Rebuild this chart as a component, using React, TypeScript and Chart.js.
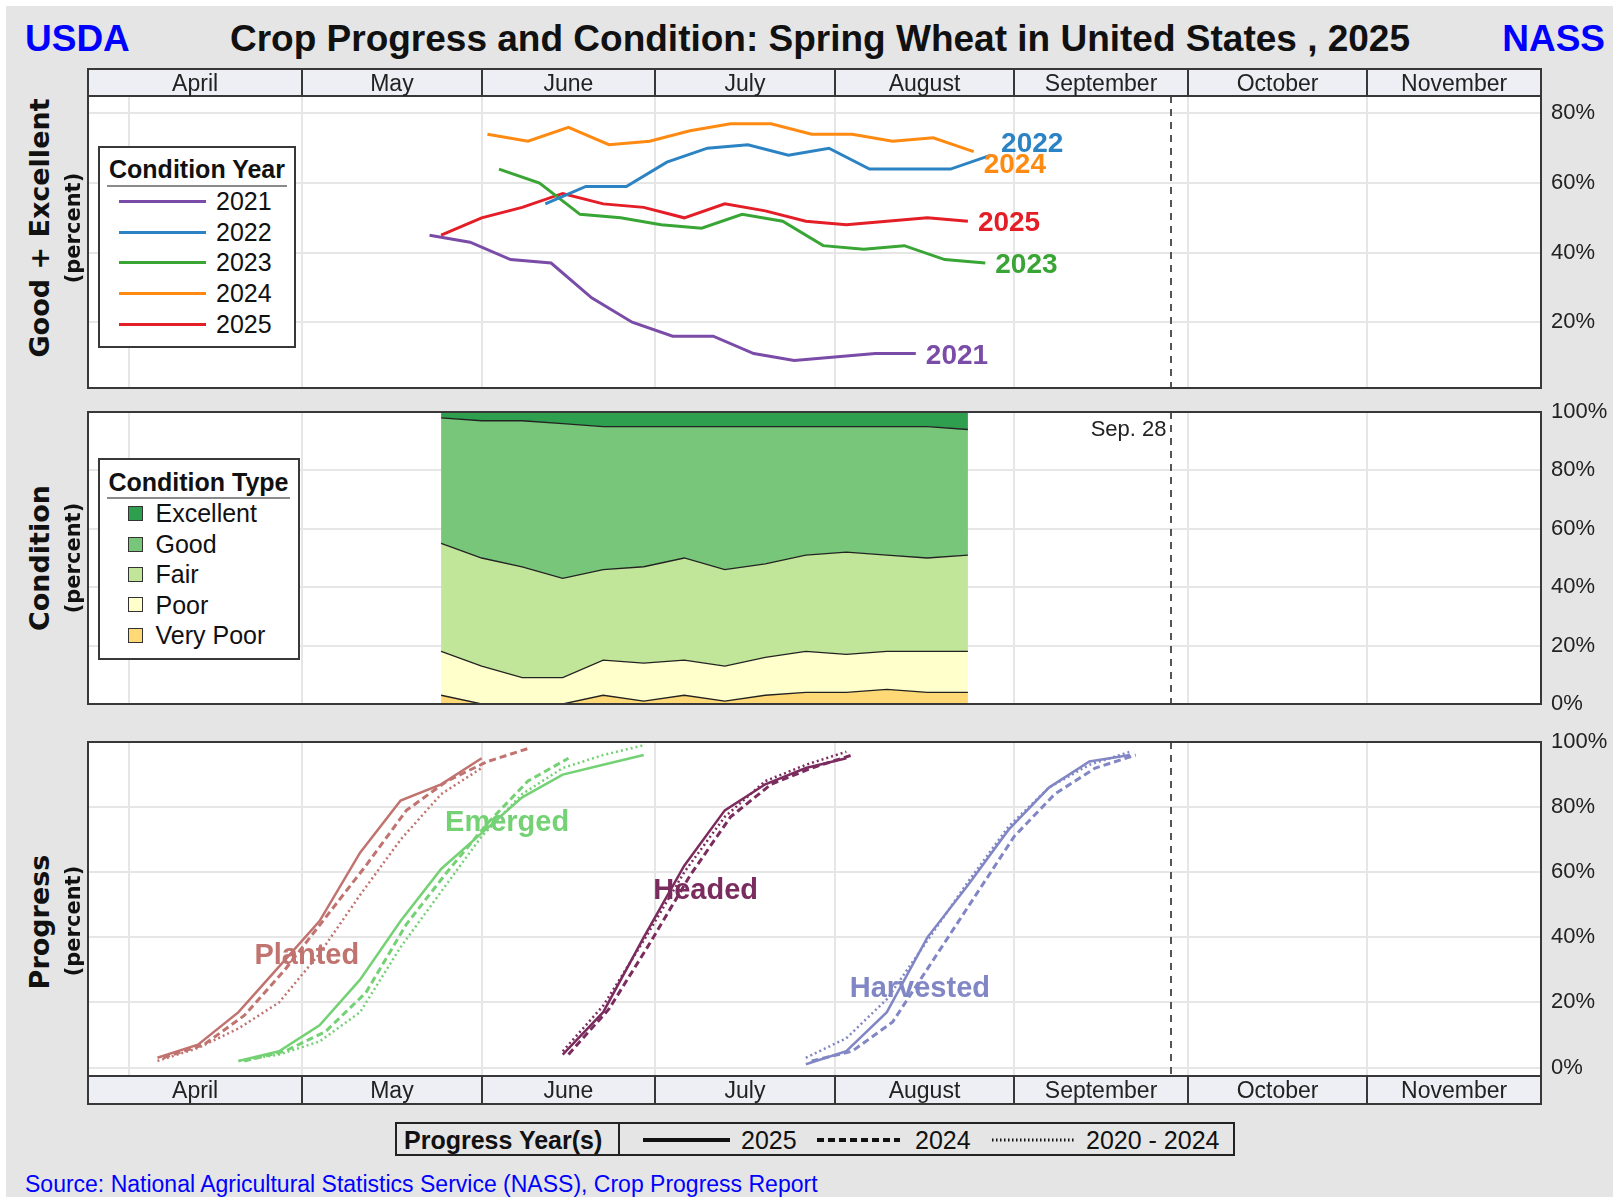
import React, { useEffect, useRef } from 'react';
import { Chart, registerables } from 'chart.js';

Chart.register(...registerables);

const SANS = '"Liberation Sans", Arial, Helvetica, sans-serif';
const WIDE = '"DejaVu Sans", Verdana, sans-serif';
const GRID = '#e6e6e6';
const FRAME = '#383838';

// ---------- calendar (month-day, plotted on the 2025 calendar) ----------
const MONTH_NAMES = ['April', 'May', 'June', 'July', 'August', 'September', 'October', 'November'];
const MONTH_EDGES = ['03-25', '05-01', '06-01', '07-01', '08-01', '09-01', '10-01', '11-01', '12-01'];
const MONTH_GRID = ['04-01', '05-01', '06-01', '07-01', '08-01', '09-01', '10-01', '11-01'];
const CUTOFF_DATE = '09-28';
const CUTOFF_LABEL = 'Sep. 28';

// ---------- Good + Excellent by year ----------
const GE_YEARS = ['2021', '2022', '2023', '2024', '2025'];
const GE_COLORS = ['#7a4ca8', '#2c83c3', '#38a535', '#ff8a12', '#e41e26'];
const GE_START = ['05-23', '06-12', '06-04', '06-02', '05-25'];
const GE_2021 = [45, 43, 38, 37, 27, 20, 16, 16, 11, 9, 10, 11, 11];
const GE_2022 = [54, 59, 59, 66, 70, 71, 68, 70, 64, 64, 64, 68];
const GE_2023 = [64, 60, 51, 50, 48, 47, 51, 49, 42, 41, 42, 38, 37];
const GE_2024 = [74, 72, 76, 71, 72, 75, 77, 77, 74, 74, 72, 73, 69];
const GE_2025 = [45, 50, 53, 57, 54, 53, 50, 54, 52, 49, 48, 49, 50, 49];
const GE_VALUES = [GE_2021, GE_2022, GE_2023, GE_2024, GE_2025];
const GE_TICKS = [20, 40, 60, 80];
const GE_LABEL_NUDGE = [0, -13, 0, 11, 0];

// ---------- Condition 2025 ----------
const COND_TYPES = ['Excellent', 'Good', 'Fair', 'Poor', 'Very Poor'];
const COND_COLORS = ['#2e9f4f', '#78c679', '#c2e699', '#ffffcc', '#fed976'];
const COND_START = '05-25';
const COND_EXCELLENT = [2, 3, 3, 4, 5, 5, 5, 5, 5, 5, 5, 5, 5, 6];
const COND_GOOD = [43, 47, 50, 53, 49, 48, 45, 49, 47, 44, 43, 44, 45, 43];
const COND_FAIR = [37, 37, 38, 34, 31, 33, 35, 33, 32, 33, 35, 33, 32, 33];
const COND_POOR = [15, 13, 9, 9, 12, 13, 12, 12, 13, 14, 13, 13, 14, 14];
const COND_VERY_POOR = [3, 0, 0, 0, 3, 1, 3, 1, 3, 4, 4, 5, 4, 4];
const PCT_TICKS = [0, 20, 40, 60, 80, 100];

// ---------- Progress ----------
const STAGES = ['Planted', 'Emerged', 'Headed', 'Harvested'];
const STAGE_COLORS = ['#c0736f', '#74d174', '#7b2c5e', '#8186c4'];
const PROGRESS_YEARS = ['2025', '2024', '2020 - 2024'];
const PLANTED_START = ['04-06', '04-07', '04-06'];
const PLANTED_2025 = [3, 7, 17, 31, 45, 66, 82, 87, 95];
const PLANTED_2024 = [3, 7, 16, 30, 46, 62, 79, 88, 94, 98];
const PLANTED_AVG = [2, 6, 12, 20, 35, 53, 70, 84, 92];
const EMERGED_START = ['04-20', '04-21', '04-20'];
const EMERGED_2025 = [2, 5, 13, 27, 45, 61, 72, 83, 90, 93, 96];
const EMERGED_2024 = [2, 5, 11, 23, 44, 60, 75, 88, 95];
const EMERGED_AVG = [2, 4, 8, 17, 37, 54, 71, 84, 92, 96, 99];
const HEADED_START = ['06-15', '06-16', '06-15'];
const HEADED_2025 = [4, 17, 40, 62, 79, 87, 92, 95];
const HEADED_2024 = [4, 18, 38, 59, 77, 87, 92, 96];
const HEADED_AVG = [5, 19, 39, 60, 77, 88, 93, 97];
const HARVESTED_START = ['07-27', '07-28', '07-27'];
const HARVESTED_2025 = [1, 5, 17, 40, 56, 73, 86, 94, 96];
const HARVESTED_2024 = [2, 5, 14, 33, 52, 71, 84, 92, 96];
const HARVESTED_AVG = [3, 9, 21, 39, 57, 74, 86, 93, 97];
// label anchors: [day of year, percent]
const STAGE_LABEL_AT = [[121.8, 35], [156.4, 76], [190.7, 55], [227.7, 25]];

const STAGE_STARTS = [PLANTED_START, EMERGED_START, HEADED_START, HARVESTED_START];
const STAGE_VALUES = [
  [PLANTED_2025, PLANTED_2024, PLANTED_AVG],
  [EMERGED_2025, EMERGED_2024, EMERGED_AVG],
  [HEADED_2025, HEADED_2024, HEADED_AVG],
  [HARVESTED_2025, HARVESTED_2024, HARVESTED_AVG],
];

function doy(md: string) {
  const [m, d] = md.split('-').map(Number);
  return (Date.UTC(2025, m - 1, d) - Date.UTC(2025, 0, 1)) / 86400000 + 1;
}
function weekly(start: string, vals: number[]) {
  const s = doy(start);
  return vals.map((y, i) => ({ x: s + 7 * i, y }));
}
const X_MIN = doy(MONTH_EDGES[0]);
const X_MAX = doy(MONTH_EDGES[MONTH_EDGES.length - 1]);

function xScale() {
  return {
    type: 'linear',
    min: X_MIN,
    max: X_MAX,
    afterBuildTicks: (s: any) => {
      s.ticks = MONTH_GRID.map((m) => ({ value: doy(m) }));
    },
    ticks: { display: false },
    grid: { color: GRID, lineWidth: 2, drawTicks: false },
    border: { display: false },
    afterFit: (s: any) => {
      s.height = 0;
    },
  };
}
function yScale(min: number, max: number, ticks: number[], stacked = false) {
  return {
    position: 'right',
    min,
    max,
    stacked,
    afterBuildTicks: (s: any) => {
      s.ticks = ticks.map((v) => ({ value: v }));
    },
    ticks: {
      callback: (v: any) => `${v}%`,
      font: { family: SANS, size: 22 },
      color: '#222',
      padding: 10,
      autoSkip: false,
    },
    grid: { color: GRID, lineWidth: 2, drawTicks: false },
    border: { display: false },
    afterFit: (s: any) => {
      s.width = 72;
      s.paddingTop = 0;
      s.paddingBottom = 0;
    },
  };
}

function drawStrip(ctx: CanvasRenderingContext2D, xs: any, top: number, h: number) {
  const left = xs.getPixelForValue(X_MIN);
  const right = xs.getPixelForValue(X_MAX);
  ctx.save();
  ctx.fillStyle = '#eeeef5';
  ctx.fillRect(left, top, right - left, h);
  ctx.strokeStyle = FRAME;
  ctx.lineWidth = 2;
  ctx.strokeRect(left, top, right - left, h);
  ctx.beginPath();
  MONTH_EDGES.slice(1, -1).forEach((m) => {
    const px = Math.round(xs.getPixelForValue(doy(m)));
    ctx.moveTo(px, top);
    ctx.lineTo(px, top + h);
  });
  ctx.stroke();
  ctx.fillStyle = '#222';
  ctx.font = `23px ${SANS}`;
  ctx.textAlign = 'center';
  ctx.textBaseline = 'alphabetic';
  MONTH_NAMES.forEach((name, i) => {
    const c = (xs.getPixelForValue(doy(MONTH_EDGES[i])) + xs.getPixelForValue(doy(MONTH_EDGES[i + 1]))) / 2;
    ctx.fillText(name, c, top + h / 2 + 8);
  });
  ctx.restore();
}

function makePanel(cfg: { strip?: 'top' | 'bottom'; cutoffText?: boolean; endLabels?: boolean; stageLabels?: boolean }) {
  return {
    id: 'panel',
    beforeDraw(chart: any) {
      const { ctx, chartArea: a } = chart;
      ctx.save();
      ctx.fillStyle = '#ffffff';
      ctx.fillRect(a.left, a.top, a.right - a.left, a.bottom - a.top);
      ctx.restore();
    },
    beforeDatasetsDraw(chart: any) {
      const { ctx, chartArea: a, scales } = chart;
      const cx = Math.round(scales.x.getPixelForValue(doy(CUTOFF_DATE)));
      ctx.save();
      ctx.strokeStyle = '#555';
      ctx.lineWidth = 2;
      ctx.setLineDash([7, 6]);
      ctx.beginPath();
      ctx.moveTo(cx, a.top);
      ctx.lineTo(cx, a.bottom);
      ctx.stroke();
      ctx.restore();
      if (cfg.stageLabels) {
        ctx.save();
        ctx.font = `bold 29px ${SANS}`;
        ctx.textAlign = 'center';
        ctx.textBaseline = 'alphabetic';
        STAGES.forEach((name, i) => {
          const [d, p] = STAGE_LABEL_AT[i];
          ctx.fillStyle = STAGE_COLORS[i];
          ctx.fillText(name, scales.x.getPixelForValue(d), scales.y.getPixelForValue(p) + 10.4);
        });
        ctx.restore();
      }
    },
    afterDatasetsDraw(chart: any) {
      if (!cfg.endLabels) return;
      const { ctx } = chart;
      ctx.save();
      ctx.font = `bold 28px ${SANS}`;
      ctx.textAlign = 'left';
      ctx.textBaseline = 'alphabetic';
      GE_YEARS.forEach((yr, i) => {
        const pts = chart.getDatasetMeta(i).data;
        const last = pts[pts.length - 1];
        ctx.fillStyle = GE_COLORS[i];
        ctx.fillText(yr, last.x + 10, last.y + GE_LABEL_NUDGE[i] + 10);
      });
      ctx.restore();
    },
    afterDraw(chart: any) {
      const { ctx, chartArea: a, scales } = chart;
      ctx.save();
      ctx.strokeStyle = FRAME;
      ctx.lineWidth = 2;
      ctx.strokeRect(a.left, a.top, a.right - a.left, a.bottom - a.top);
      ctx.restore();
      if (cfg.strip === 'top') drawStrip(ctx, scales.x, a.top - 27, 27);
      if (cfg.strip === 'bottom') drawStrip(ctx, scales.x, a.bottom, 28);
      if (cfg.cutoffText) {
        const cx = scales.x.getPixelForValue(doy(CUTOFF_DATE));
        ctx.save();
        ctx.font = `22px ${SANS}`;
        ctx.fillStyle = '#222';
        ctx.textAlign = 'right';
        ctx.textBaseline = 'alphabetic';
        ctx.fillText(CUTOFF_LABEL, cx - 4, a.top + 24);
        ctx.restore();
      }
    },
  };
}

function baseOptions(padding: any, y: any) {
  return {
    responsive: false,
    maintainAspectRatio: false,
    animation: false,
    events: [],
    layout: { padding, autoPadding: false },
    plugins: { legend: { display: false }, tooltip: { enabled: false } },
    elements: { point: { radius: 0 }, line: { tension: 0 } },
    scales: { x: xScale(), y },
  };
}

function topConfig() {
  return {
    type: 'line',
    data: {
      datasets: GE_YEARS.map((yr, i) => ({
        label: yr,
        data: weekly(GE_START[i], GE_VALUES[i]),
        borderColor: GE_COLORS[i],
        borderWidth: 3,
        pointRadius: 0,
        fill: false,
      })),
    },
    options: baseOptions({ top: 40, bottom: 12, left: 8, right: 0 }, yScale(1.1, 85, GE_TICKS)),
    plugins: [makePanel({ strip: 'top', endLabels: true })],
  };
}

function middleConfig() {
  const stack = [COND_VERY_POOR, COND_POOR, COND_FAIR, COND_GOOD, COND_EXCELLENT];
  const colors = [COND_COLORS[4], COND_COLORS[3], COND_COLORS[2], COND_COLORS[1], COND_COLORS[0]];
  return {
    type: 'line',
    data: {
      datasets: stack.map((vals, i) => ({
        data: weekly(COND_START, vals),
        backgroundColor: colors[i],
        borderColor: '#222',
        borderWidth: 1.3,
        pointRadius: 0,
        fill: i === 0 ? 'origin' : '-1',
      })),
    },
    options: baseOptions({ top: 20, bottom: 16, left: 8, right: 0 }, yScale(0, 100, PCT_TICKS, true)),
    plugins: [makePanel({ cutoffText: true })],
  };
}

function bottomConfig() {
  const widths = [2.5, 3, 2.5];
  const dashes = [[], [7, 4], [2, 3]];
  const datasets: any[] = [];
  STAGES.forEach((_s, si) => {
    [2, 1, 0].forEach((k) => {
      datasets.push({
        data: weekly(STAGE_STARTS[si][k], STAGE_VALUES[si][k]),
        borderColor: STAGE_COLORS[si],
        borderWidth: widths[k],
        borderDash: dashes[k],
        pointRadius: 0,
        fill: false,
      });
    });
  });
  return {
    type: 'line',
    data: { datasets },
    options: baseOptions({ top: 20, bottom: 32, left: 8, right: 0 }, yScale(-2.6, 100, PCT_TICKS)),
    plugins: [makePanel({ strip: 'bottom', stageLabels: true })],
  };
}

function ChartBox({ make, left, top, width, height }: any) {
  const ref = useRef<HTMLCanvasElement>(null);
  useEffect(() => {
    const chart = new Chart(ref.current as HTMLCanvasElement, make());
    return () => chart.destroy();
  }, []);
  return (
    <canvas
      ref={ref}
      width={width}
      height={height}
      style={{ position: 'absolute', left, top, width, height }}
    />
  );
}

function Label({ text, x, cy, size, align = 'left', bold = false, color = '#111', family = SANS }: any) {
  const style: any = {
    position: 'absolute',
    top: cy - 0.49 * size,
    fontFamily: family,
    fontSize: size,
    lineHeight: `${size}px`,
    fontWeight: bold ? 'bold' : 'normal',
    color,
    whiteSpace: 'nowrap',
  };
  if (align === 'left') style.left = x;
  if (align === 'center') {
    style.left = x;
    style.transform = 'translateX(-50%)';
  }
  if (align === 'right') style.right = 1613 - x;
  return <div style={style}>{text}</div>;
}

function VTitle({ text, x, y, size }: any) {
  return (
    <div
      style={{
        position: 'absolute',
        left: x,
        top: y,
        transform: 'translate(-50%, -50%) rotate(-90deg)',
        fontFamily: WIDE,
        fontWeight: 'bold',
        fontSize: size,
        lineHeight: `${size}px`,
        whiteSpace: 'nowrap',
        color: '#111',
      }}
    >
      {text}
    </div>
  );
}

const YEAR_ROWS = [201.6, 232.5, 262.3, 293.2, 324];
const TYPE_ROWS = [513.3, 544.2, 574, 604.9, 635.7];

export default function App() {
  useEffect(() => {
    document.documentElement.style.overflow = 'hidden';
    document.body.style.overflow = 'hidden';
  }, []);
  return (
    <div style={{ position: 'absolute', left: 0, top: 0, width: 1613, height: 1197, background: '#fff', overflow: 'hidden' }}>
      <div style={{ position: 'absolute', left: 6, top: 6, right: 0, bottom: 0, background: '#e5e5e5' }} />

      <Label text="USDA" x={25} cy={37.8} size={37} bold color="#0000ff" />
      <Label text="Crop Progress and Condition: Spring Wheat in United States , 2025" x={820} cy={37.8} size={37} bold align="center" />
      <Label text="NASS" x={1605} cy={37.8} size={37} bold color="#0000ff" align="right" />

      <ChartBox make={topConfig} left={80} top={56} width={1533} height={344} />
      <ChartBox make={middleConfig} left={80} top={392} width={1533} height={328} />
      <ChartBox make={bottomConfig} left={80} top={722} width={1533} height={386} />

      <VTitle text="Good + Excellent" x={39} y={228} size={27} />
      <VTitle text="(percent)" x={73} y={228} size={21} />
      <VTitle text="Condition" x={39} y={557.5} size={27} />
      <VTitle text="(percent)" x={73} y={557.5} size={21} />
      <VTitle text="Progress" x={39} y={922} size={27} />
      <VTitle text="(percent)" x={73} y={921} size={21} />

      {/* Condition Year legend */}
      <div style={{ position: 'absolute', left: 98, top: 146, width: 198, height: 202, boxSizing: 'border-box', border: `2px solid ${FRAME}`, background: '#fff' }} />
      <Label text="Condition Year" x={197} cy={169.7} size={25} bold align="center" />
      <div style={{ position: 'absolute', left: 107, top: 185, width: 180, height: 2, background: '#8a8a8a' }} />
      {GE_YEARS.map((yr, i) => (
        <React.Fragment key={yr}>
          <div style={{ position: 'absolute', left: 119, top: YEAR_ROWS[i] - 1.5, width: 87, height: 3, background: GE_COLORS[i] }} />
          <Label text={yr} x={216} cy={YEAR_ROWS[i]} size={25} />
        </React.Fragment>
      ))}

      {/* Condition Type legend */}
      <div style={{ position: 'absolute', left: 98, top: 458, width: 202, height: 202, boxSizing: 'border-box', border: `2px solid ${FRAME}`, background: '#fff' }} />
      <Label text="Condition Type" x={198.5} cy={482.5} size={25} bold align="center" />
      <div style={{ position: 'absolute', left: 107, top: 497, width: 183, height: 2, background: '#8a8a8a' }} />
      {COND_TYPES.map((t, i) => (
        <React.Fragment key={t}>
          <div style={{ position: 'absolute', left: 127.5, top: TYPE_ROWS[i] - 7.5, width: 15, height: 15, boxSizing: 'border-box', border: '1.5px solid #333', background: COND_COLORS[i] }} />
          <Label text={t} x={155.5} cy={TYPE_ROWS[i]} size={25} />
        </React.Fragment>
      ))}

      {/* Progress Year(s) legend */}
      <div style={{ position: 'absolute', left: 395, top: 1122, width: 840, height: 34, boxSizing: 'border-box', border: '2px solid #222', background: '#e5e5e5' }} />
      <div style={{ position: 'absolute', left: 618, top: 1122, width: 2, height: 34, background: '#222' }} />
      <Label text="Progress Year(s)" x={404} cy={1140} size={25} bold />
      <svg style={{ position: 'absolute', left: 0, top: 1130 }} width={1613} height={20}>
        <line x1={643} y1={10} x2={730} y2={10} stroke="#111" strokeWidth={4} />
        <line x1={817} y1={10} x2={900} y2={10} stroke="#111" strokeWidth={4} strokeDasharray="7 4" />
        <line x1={992} y1={10} x2={1076} y2={10} stroke="#111" strokeWidth={3} strokeDasharray="1.5 2.5" />
      </svg>
      <Label text={PROGRESS_YEARS[0]} x={741} cy={1140} size={25} />
      <Label text={PROGRESS_YEARS[1]} x={915} cy={1140} size={25} />
      <Label text={PROGRESS_YEARS[2]} x={1086} cy={1140} size={25} />

      <Label text="Source: National Agricultural Statistics Service (NASS), Crop Progress Report" x={25} cy={1184} size={23} color="#0000ff" />
    </div>
  );
}
